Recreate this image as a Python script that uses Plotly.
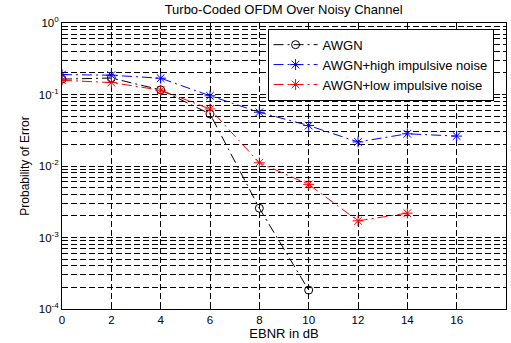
import plotly.graph_objects as go

ebnr_awgn = [0, 2, 4, 6, 8, 10]
pe_awgn = [0.164, 0.17, 0.116, 0.0535, 0.00257, 0.000184]

ebnr_high = [0, 2, 4, 6, 8, 10, 12, 14, 16]
pe_high = [0.19, 0.186, 0.169, 0.096, 0.0565, 0.0368, 0.0217, 0.0282, 0.0262]

ebnr_low = [0, 2, 4, 6, 8, 10, 12, 14]
pe_low = [0.158, 0.147, 0.115, 0.0628, 0.0111, 0.00553, 0.00171, 0.00219]

x_ticks = [0, 2, 4, 6, 8, 10, 12, 14, 16, 18]
y_tickvals = [1e-4, 1e-3, 1e-2, 1e-1, 1]
y_ticktext = ["10<sup>-4</sup>", "10<sup>-3</sup>", "10<sup>-2</sup>", "10<sup>-1</sup>", "10<sup>0</sup>"]

line_dash = "10px,4px,2px,4px"

fig = go.Figure()
fig.add_trace(go.Scatter(x=ebnr_awgn, y=pe_awgn, mode="lines+markers", name="AWGN",
                         line=dict(color="black", width=1, dash=line_dash),
                         marker=dict(symbol="circle-open", size=8, color="black", line=dict(width=1))))
fig.add_trace(go.Scatter(x=ebnr_high, y=pe_high, mode="lines+markers", name="AWGN+high impulsive noise",
                         line=dict(color="blue", width=1, dash=line_dash),
                         marker=dict(symbol="asterisk-open", size=9, color="blue", line=dict(width=1, color="blue"))))
fig.add_trace(go.Scatter(x=ebnr_low, y=pe_low, mode="lines+markers", name="AWGN+low impulsive noise",
                         line=dict(color="red", width=1, dash=line_dash),
                         marker=dict(symbol="asterisk-open", size=9, color="red", line=dict(width=1, color="red"))))

grid_dash = "6px,3px"

fig.update_layout(
    width=511, height=343,
    margin=dict(l=62, r=4, t=23, b=31),
    paper_bgcolor="white", plot_bgcolor="white",
    font=dict(family="Liberation Sans, Arial, sans-serif", size=11.5, color="black"),
    title=dict(text="Turbo-Coded OFDM Over Noisy Channel", x=0.555, xanchor="center", y=0.985, yanchor="top",
               font=dict(size=13)),
    legend=dict(x=0.463, y=0.98, xanchor="left", yanchor="top", bgcolor="white",
                bordercolor="black", borderwidth=1, font=dict(size=13),
                tracegroupgap=0, itemwidth=44),
    showlegend=True,
)
fig.update_xaxes(range=[0, 18], tickvals=x_ticks, showgrid=True, gridcolor="black", griddash=grid_dash,
                 gridwidth=1, showline=True, linecolor="black", mirror="ticks", ticks="inside",
                 ticklen=4, tickcolor="black", zeroline=False,
                 title=dict(text="EBNR in dB", standoff=4, font=dict(size=13)))
fig.update_yaxes(type="log", range=[-4, 0], tickvals=y_tickvals, ticktext=y_ticktext,
                 showgrid=True, gridcolor="black", griddash=grid_dash, gridwidth=1,
                 minor=dict(dtick="D1", showgrid=True, gridcolor="black", griddash=grid_dash, gridwidth=1,
                            ticks="inside", ticklen=2, tickcolor="black"),
                 showline=True, linecolor="black", mirror="ticks", ticks="inside", ticklen=4,
                 tickcolor="black", zeroline=False,
                 title=dict(text="Probability of Error", standoff=6, font=dict(size=12)))

fig.write_html("out.html")
